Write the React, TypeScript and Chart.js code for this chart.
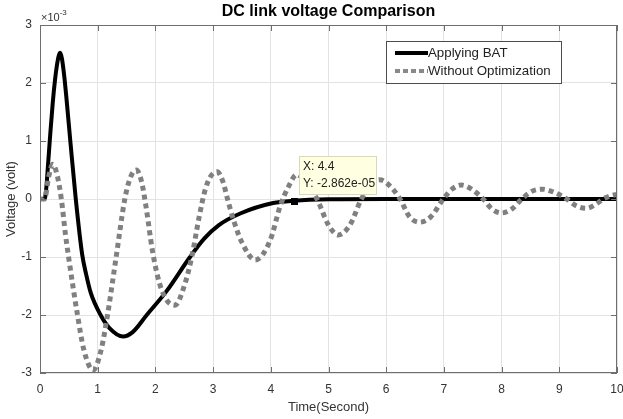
import React, { useEffect, useRef } from "react";
import { Chart, registerables } from "chart.js";

Chart.register(...registerables);

// ---- data (voltage in units of 1e-3 V) ----
const batTime = [0, 0.08, 0.11, 0.14, 0.18, 0.22, 0.26, 0.3, 0.33, 0.35, 0.38, 0.42, 0.46, 0.53, 0.62, 0.73, 0.8, 0.88, 1.05, 1.2, 1.44, 1.6, 1.85, 2.2, 2.6, 2.85, 3.1, 3.47, 4.04, 4.4, 5.0, 6.0, 7.0, 8.0, 9.0, 10.0];
const batVoltage = [0, 0, 0.2, 0.6, 1.15, 1.65, 2.05, 2.35, 2.49, 2.52, 2.42, 2.12, 1.72, 0.95, 0, -0.95, -1.3, -1.62, -2.0, -2.22, -2.37, -2.3, -2.0, -1.58, -1.0, -0.68, -0.45, -0.25, -0.07, -0.029, -0.005, 0, 0, 0, 0, 0];

const noOptTime = [0, 0.08, 0.15, 0.22, 0.3, 0.37, 0.44, 0.51, 0.65, 0.76, 0.92, 1.06, 1.17, 1.32, 1.47, 1.57, 1.67, 1.76, 1.84, 1.95, 2.07, 2.2, 2.34, 2.5, 2.63, 2.76, 2.86, 2.95, 3.07, 3.17, 3.25, 3.35, 3.5, 3.73, 3.99, 4.16, 4.3, 4.45, 4.6, 4.8, 5.0, 5.17, 5.37, 5.57, 5.72, 5.89, 6.05, 6.24, 6.4, 6.58, 6.78, 6.99, 7.14, 7.3, 7.48, 7.68, 7.83, 8.0, 8.18, 8.35, 8.52, 8.7, 8.9, 9.13, 9.3, 9.47, 9.62, 9.76, 9.9, 10.0];
const noOptVoltage = [0, 0, 0.38, 0.6, 0.4, 0, -0.6, -1.1, -2.0, -2.6, -2.95, -2.6, -2.0, -1.0, 0, 0.38, 0.5, 0.3, -0.15, -0.9, -1.45, -1.75, -1.83, -1.5, -1.0, -0.3, 0.15, 0.38, 0.47, 0.3, 0, -0.35, -0.75, -1.05, -0.71, -0.13, 0.2, 0.42, 0.3, 0, -0.45, -0.62, -0.45, 0, 0.24, 0.33, 0.24, 0, -0.3, -0.4, -0.3, 0, 0.17, 0.24, 0.17, 0, -0.17, -0.24, -0.17, 0, 0.13, 0.17, 0.12, 0, -0.12, -0.16, -0.1, 0, 0.06, 0.08];

const xTicks = [0, 1, 2, 3, 4, 5, 6, 7, 8, 9, 10];
const yTicks = [-3, -2, -1, 0, 1, 2, 3];

const seriesLabels = ["Applying BAT", "Without Optimization"];
const titleText = "DC link voltage Comparison";
const xLabel = "Time(Second)";
const yLabel = "Voltage (volt)";
const cursorX = 4.4;
const cursorY = -0.02862;
const cursorLines = ["X: 4.4", "Y: -2.862e-05"];

const FONT = "'Liberation Sans', Arial, sans-serif";
const TXT = "#333333";

const decor = {
  id: "matlabDecor",
  afterDraw(chart: any) {
    const { ctx, chartArea: a, scales } = chart;
    const xs = scales.x, ys = scales.y;
    ctx.save();
    // box
    ctx.strokeStyle = "#6e6e6e";
    ctx.lineWidth = 1;
    ctx.strokeRect(Math.round(a.left) + 0.5, Math.round(a.top) + 0.5, Math.round(a.right - a.left) - 1, Math.round(a.bottom - a.top) - 1);
    // inner ticks
    ctx.beginPath();
    xTicks.forEach((t) => {
      const px = Math.round(xs.getPixelForValue(t)) + 0.5;
      ctx.moveTo(px, a.bottom); ctx.lineTo(px, a.bottom - 6);
      ctx.moveTo(px, a.top); ctx.lineTo(px, a.top + 6);
    });
    yTicks.forEach((t) => {
      const py = Math.round(ys.getPixelForValue(t)) + 0.5;
      ctx.moveTo(a.left, py); ctx.lineTo(a.left + 6, py);
      ctx.moveTo(a.right, py); ctx.lineTo(a.right - 6, py);
    });
    ctx.stroke();

    // exponent
    ctx.fillStyle = TXT;
    ctx.textBaseline = "alphabetic";
    ctx.textAlign = "left";
    ctx.font = `11px ${FONT}`;
    ctx.fillText("\u00d710", a.left + 1, a.top - 4);
    const w10 = ctx.measureText("\u00d710").width;
    ctx.font = `8px ${FONT}`;
    ctx.fillText("-3", a.left + 1 + w10, a.top - 10);

    // title
    ctx.fillStyle = "#000";
    ctx.font = `bold 16px ${FONT}`;
    ctx.textAlign = "center";
    ctx.textBaseline = "middle";
    ctx.fillText(titleText, (a.left + a.right) / 2, 12);

    // legend
    const lx = 386, ly = 41, lw = 175, lh = 42;
    ctx.fillStyle = "#fff";
    ctx.fillRect(lx, ly, lw, lh);
    ctx.strokeStyle = "#4d4d4d";
    ctx.strokeRect(lx + 0.5, ly + 0.5, lw, lh);
    ctx.lineCap = "butt";
    ctx.strokeStyle = "#000";
    ctx.lineWidth = 4;
    ctx.beginPath(); ctx.moveTo(395, 53); ctx.lineTo(428, 53); ctx.stroke();
    ctx.strokeStyle = "#888";
    ctx.setLineDash([5, 3]);
    ctx.beginPath(); ctx.moveTo(395, 71); ctx.lineTo(428, 71); ctx.stroke();
    ctx.setLineDash([]);
    ctx.fillStyle = "#222";
    ctx.font = `13.3px ${FONT}`;
    ctx.textAlign = "left";
    ctx.textBaseline = "middle";
    ctx.fillText(seriesLabels[0], 428, 53);
    ctx.fillText(seriesLabels[1], 428, 71);

    // data cursor
    const mx = xs.getPixelForValue(cursorX), my = ys.getPixelForValue(cursorY);
    ctx.fillStyle = "#000";
    ctx.fillRect(Math.round(mx) - 3, Math.round(my) - 3, 7, 7);
    const bx = Math.round(mx) + 5, by = Math.round(my) - 45, bw = 77, bh = 38;
    ctx.fillStyle = "#ffffe1";
    ctx.fillRect(bx, by, bw, bh);
    ctx.strokeStyle = "#d8d8b8";
    ctx.lineWidth = 1;
    ctx.strokeRect(bx + 0.5, by + 0.5, bw, bh);
    ctx.fillStyle = "#222";
    ctx.font = `12px ${FONT}`;
    ctx.fillText(cursorLines[0], bx + 4, by + 11);
    ctx.fillText(cursorLines[1], bx + 4, by + 28);
    ctx.restore();
  },
};

export default function App() {
  const ref = useRef<HTMLCanvasElement>(null);
  useEffect(() => {
    if (!ref.current) return;
    const bat = batTime.map((t, i) => ({ x: t, y: batVoltage[i] }));
    const noOpt = noOptTime.map((t, i) => ({ x: t, y: noOptVoltage[i] }));
    const chart = new Chart(ref.current, {
      type: "line",
      data: {
        datasets: [
          {
            label: seriesLabels[0],
            data: bat,
            borderColor: "#000000",
            borderWidth: 4,
            pointRadius: 0,
            cubicInterpolationMode: "monotone",
            fill: false,
            order: 1,
          },
          {
            label: seriesLabels[1],
            data: noOpt,
            borderColor: "#808080",
            borderWidth: 5,
            borderDash: [5, 4],
            borderCapStyle: "butt",
            pointRadius: 0,
            cubicInterpolationMode: "monotone",
            fill: false,
            order: 0,
          },
        ],
      },
      options: {
        responsive: false,
        animation: false,
        devicePixelRatio: 1,
        layout: { padding: { left: 0, right: 6, top: 25, bottom: 0 }, autoPadding: false },
        plugins: { legend: { display: false }, tooltip: { enabled: false }, title: { display: false } },
        scales: {
          x: {
            type: "linear",
            min: 0,
            max: 10,
            afterBuildTicks: (s: any) => { s.ticks = xTicks.map((v) => ({ value: v })); },
            ticks: { color: TXT, font: { family: FONT, size: 12 }, padding: 9, maxRotation: 0, autoSkip: false },
            grid: { color: "#e3e3e3", drawTicks: false },
            border: { display: false },
            title: { display: true, text: xLabel, color: TXT, font: { family: FONT, size: 13 }, padding: { top: 0, bottom: 4 } },
            afterFit: (s: any) => { s.height = 46; s.paddingLeft = 0; s.paddingRight = 0; },
          },
          y: {
            type: "linear",
            min: -3,
            max: 3,
            afterBuildTicks: (s: any) => { s.ticks = yTicks.map((v) => ({ value: v })); },
            ticks: { color: TXT, font: { family: FONT, size: 12 }, padding: 8, autoSkip: false },
            grid: { color: "#e3e3e3", drawTicks: false },
            border: { display: false },
            title: { display: true, text: yLabel, color: TXT, font: { family: FONT, size: 13 }, padding: { top: 4, bottom: 0 } },
            afterFit: (s: any) => { s.width = 40; s.paddingTop = 0; s.paddingBottom = 0; },
          },
        },
      },
      plugins: [decor],
    });
    return () => chart.destroy();
  }, []);
  return (
    <div style={{ position: "absolute", left: 0, top: 0, background: "#fff" }}>
      <canvas ref={ref} width={623} height={419} />
    </div>
  );
}
